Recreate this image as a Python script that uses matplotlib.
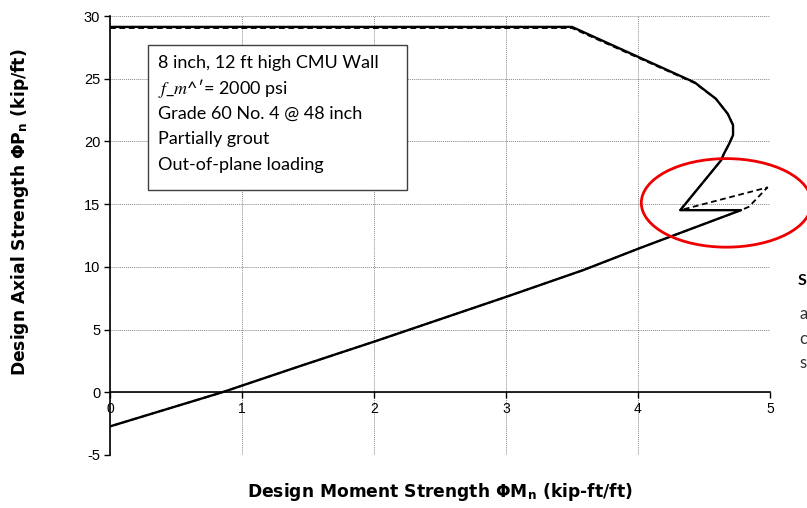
import matplotlib
matplotlib.use("Agg")
import matplotlib.pyplot as plt
from matplotlib.patches import Ellipse

# Solid interaction curve (design moment vs design axial strength)
M_solid = [0.00, 3.50, 4.43, 4.59, 4.68, 4.72, 4.72, 4.69, 4.65, 4.63, 4.32,
           4.78, 4.01, 3.59, 3.01, 2.01, 1.44, 0.85, 0.00]
P_solid = [29.13, 29.13, 24.70, 23.40, 22.20, 21.30, 20.50, 19.80, 19.00, 18.50, 14.52,
           14.52, 11.48, 9.76, 7.64, 4.07, 2.09, 0.00, -2.72]

# Dashed curve
M_dash = [0.00, 3.50, 4.43, 4.59, 4.68, 4.72, 4.72, 4.69, 4.65, 4.63, 4.32,
          4.98, 4.84, 4.78, 4.01, 3.59, 3.01, 2.01, 1.44, 0.85, 0.00]
P_dash = [29.04, 29.04, 24.65, 23.40, 22.20, 21.30, 20.50, 19.80, 19.00, 18.50, 14.52,
          16.33, 14.79, 14.52, 11.48, 9.76, 7.64, 4.07, 2.09, 0.00, -2.72]

x_ticks = [0, 1, 2, 3, 4, 5]
y_ticks = [-5, 0, 5, 10, 15, 20, 25, 30]

box_lines = ["8 inch, 12 ft high CMU Wall",
             "$f$_$m$^\u2032= 2000 psi",
             "Grade 60 No. 4 @ 48 inch",
             "Partially grout",
             "Out-of-plane loading"]

plt.rcParams['font.family'] = ['Liberation Sans', 'DejaVu Sans']
plt.rcParams['mathtext.fontset'] = 'stix'

W, H = 807, 508
fig = plt.figure(figsize=(W / 100, H / 100), dpi=100)
ax = fig.add_axes([110 / W, (H - 455) / H, 660 / W, 439 / H])

ax.plot(M_dash, P_dash, color='black', lw=1.3, ls=(0, (3.2, 2.0)), zorder=3)
ax.plot(M_solid, P_solid, color='black', lw=1.7, zorder=4)

ax.set_xlim(0, 5)
ax.set_ylim(-5, 30)
ax.set_xticks(x_ticks)
ax.set_yticks(y_ticks)
ax.set_xticklabels([str(t) for t in x_ticks], fontsize=10.5)
ax.set_yticklabels([str(t) for t in y_ticks], fontsize=10.5)
ax.grid(True, color='#8a8a8a', ls=(0, (1, 1)), lw=0.7)
ax.set_axisbelow(True)

for s in ['top', 'right']:
    ax.spines[s].set_visible(False)
ax.spines['bottom'].set_position(('data', 0))
ax.spines['left'].set_linewidth(1.2)
ax.spines['bottom'].set_linewidth(1.2)
ax.tick_params(axis='both', direction='out', length=4, width=1, pad=3)
ax.tick_params(axis='x', pad=3)

# Axis labels
lab_font = dict(fontsize=12.3, fontweight='bold', family=['DejaVu Sans'])
fig.text(20 / W, 1 - 212 / H, "Design Axial Strength \u03a6P$_\\mathregular{n}$ (kip/ft)",
         rotation=90, ha='center', va='center', **lab_font)
fig.text(440 / W, 1 - 492 / H, "Design Moment Strength \u03a6M$_\\mathregular{n}$ (kip-ft/ft)",
         ha='center', va='center', **lab_font)

# Annotation box
box = plt.Rectangle((148 / W, 1 - 190 / H), (407 - 148) / W, (190 - 45) / H,
                    transform=fig.transFigure, facecolor='white', edgecolor='#404040',
                    lw=1.0, zorder=5)
fig.add_artist(box)
for i, line in enumerate(box_lines):
    fig.text(158 / W, 1 - (63 + 25.4 * i) / H, line, ha='left', va='center',
             fontsize=13, family=['Lato', 'DejaVu Sans'], zorder=6)

# Red ellipse highlight
ell = Ellipse((4.67, 15.1), 1.29, 7.06, facecolor='none', edgecolor='#ee0000',
              lw=2.0, clip_on=False, zorder=6)
ax.add_patch(ell)

# Body text partly visible at the right edge (as in the reference)
fig.text(798 / W, 1 - 281 / H, "S", ha='left', va='center', fontsize=11.5,
         fontweight='bold', family=['Lato', 'DejaVu Sans'])
for yy, ch in [(314, "a"), (339, "c"), (363, "s")]:
    fig.text(799 / W, 1 - yy / H, ch, ha='left', va='center', fontsize=12,
             color='#333333', family=['Lato', 'DejaVu Sans'])

fig.savefig("out.png", dpi=100)
